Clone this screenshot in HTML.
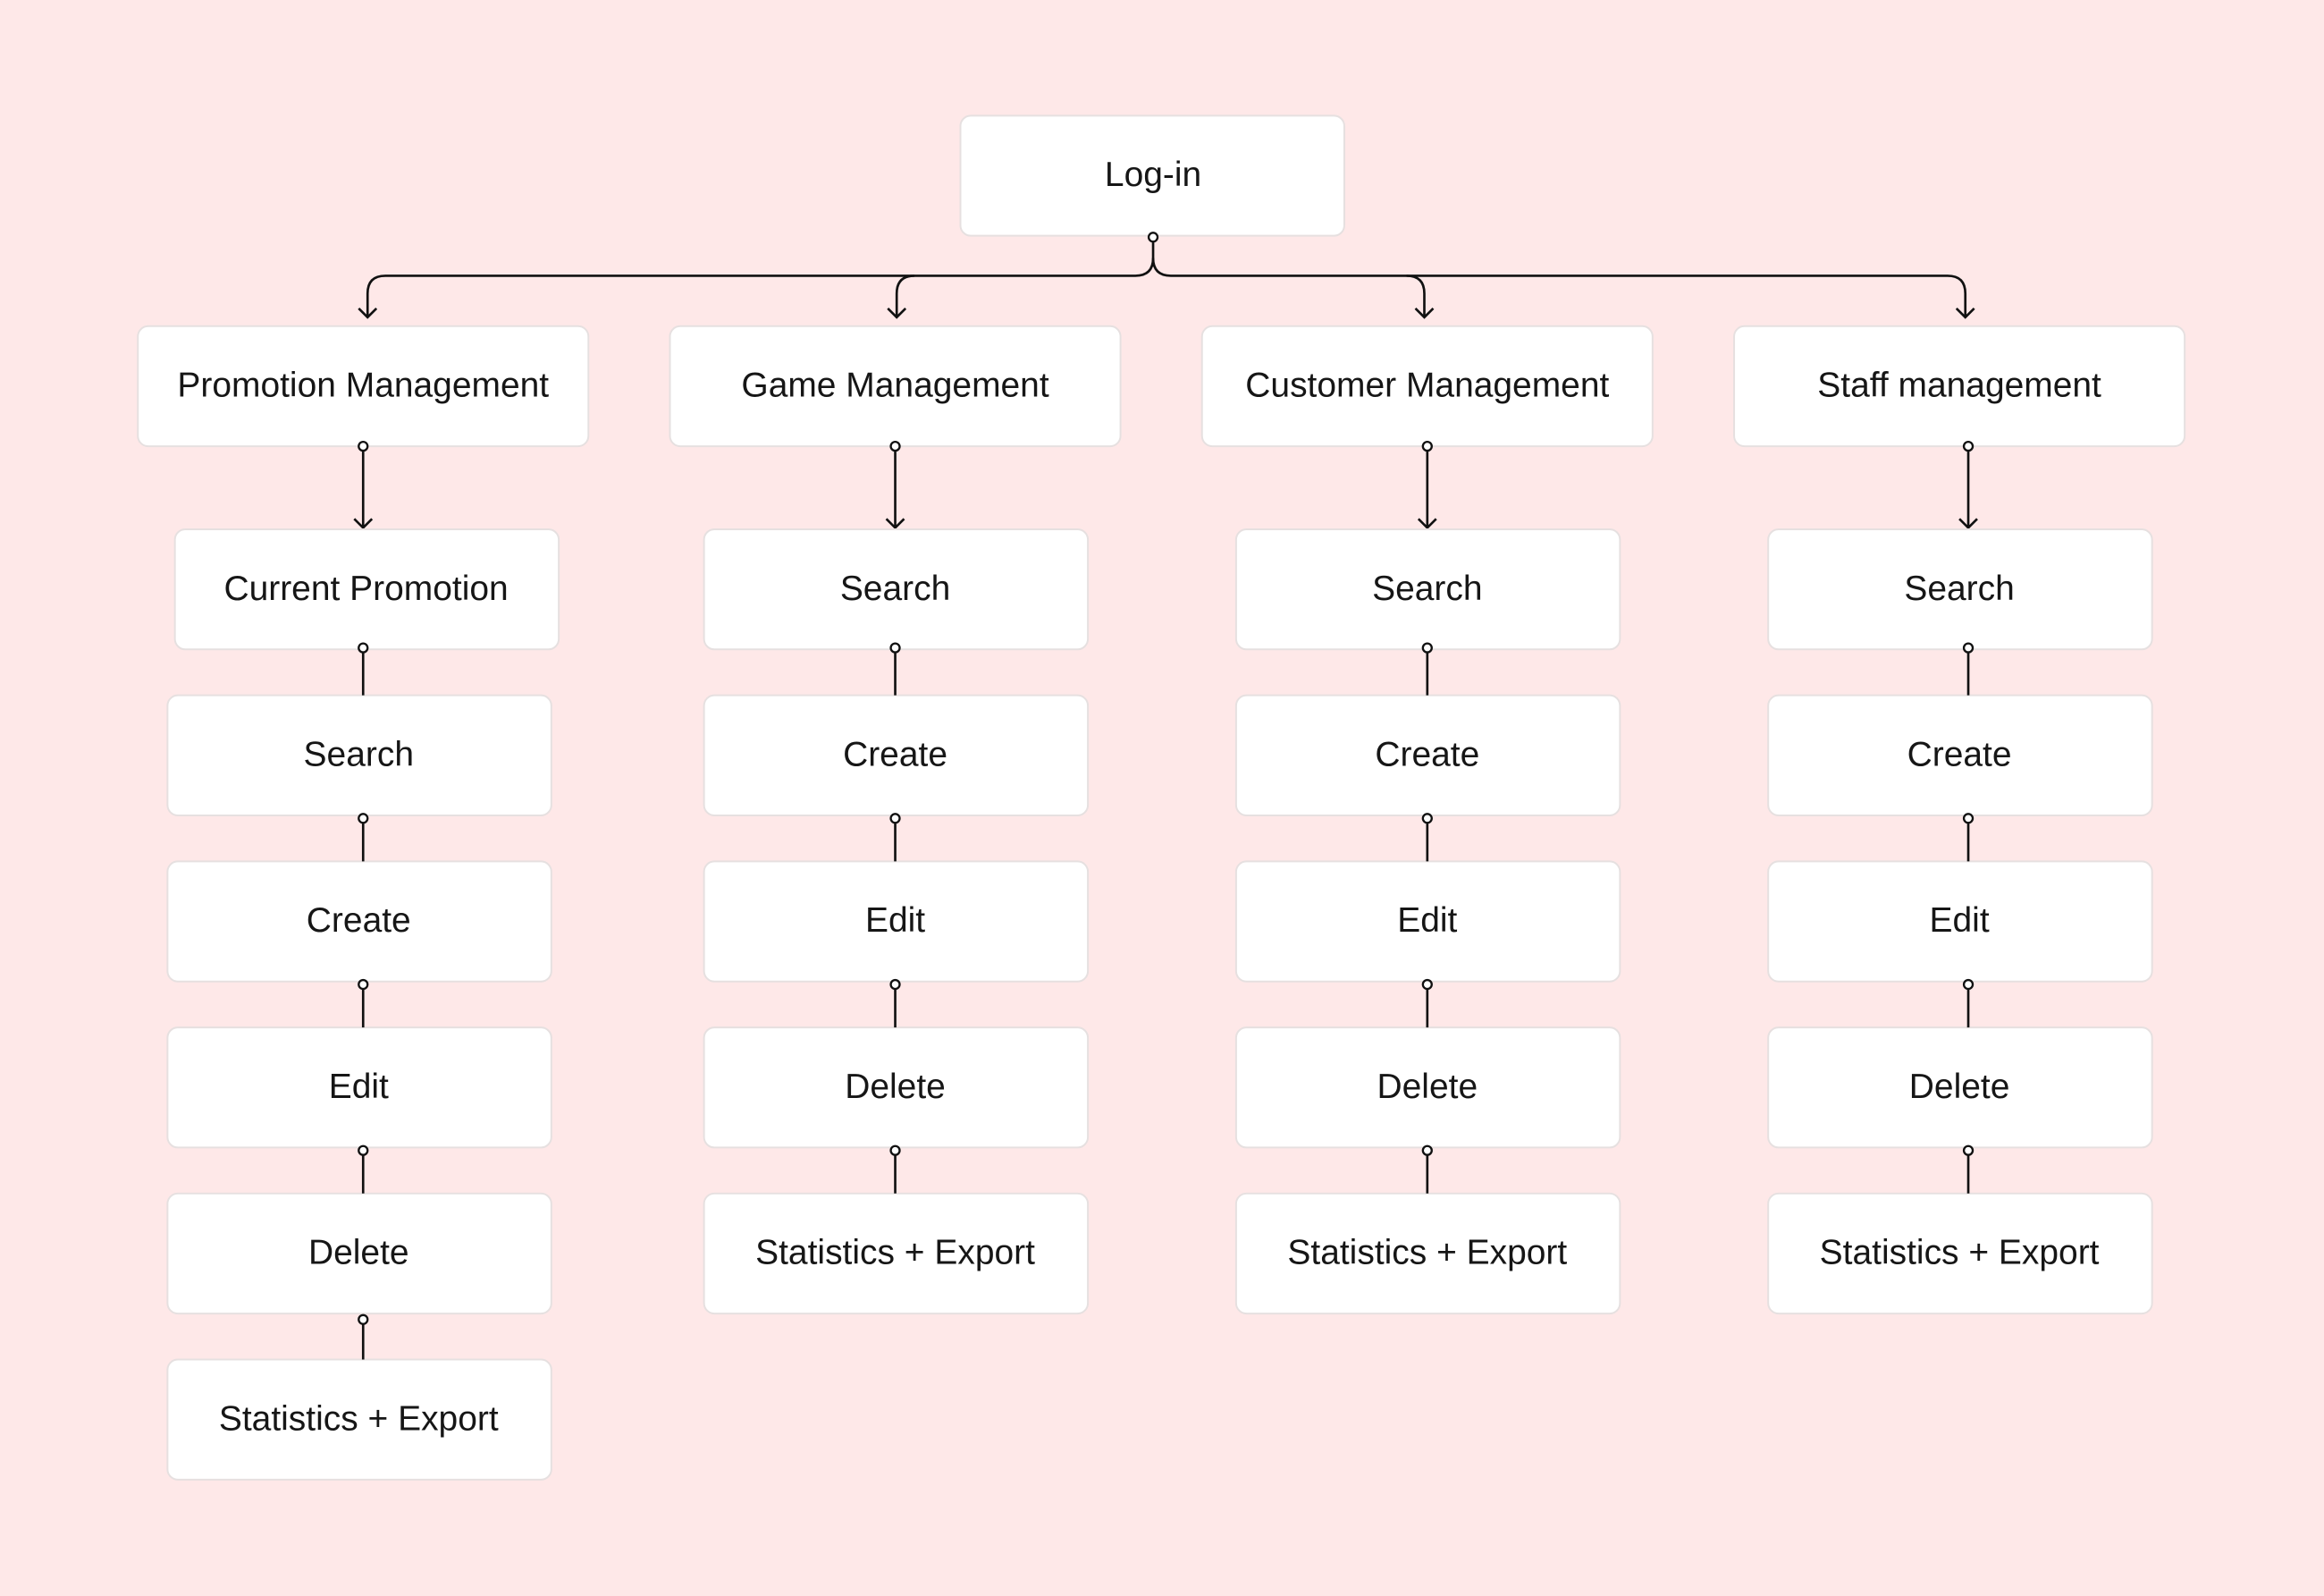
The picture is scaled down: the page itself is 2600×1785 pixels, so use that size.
<!DOCTYPE html>
<html><head><meta charset="utf-8"><style>
html,body{margin:0;padding:0;background:#fee8e8;}
svg{display:block}
text{font-family:"Liberation Sans",sans-serif;font-size:23.5px;fill:#161616;text-anchor:middle;dominant-baseline:central}
.b{fill:#fff;stroke:#e6e0e0;stroke-width:1.2}
.l{stroke:#111;stroke-width:1.6;fill:none}
.d{fill:#fff;stroke:#111;stroke-width:1.4}
</style></head><body>
<svg width="2600" height="1785" viewBox="0 0 1568 1076.5" xmlns="http://www.w3.org/2000/svg">
<rect width="1568" height="1077" fill="#fee8e8"/>
<rect class="b" x="648" y="78" width="259" height="81" rx="7"/><text x="778" y="118">Log-in</text>
<path class="l" d="M778 160 V174 Q778 186 766 186 H260 Q248 186 248 198 V214"/>
<path class="l" d="M778 174 Q778 186 790 186 H1314 Q1326 186 1326 198 V214"/>
<path class="l" d="M617 186 Q605 186 605 198 V214"/>
<path class="l" d="M949 186 Q961 186 961 198 V214"/>
<path class="l" d="M242 208 L248 214 L254 208 M599 208 L605 214 L611 208 M955 208 L961 214 L967 208 M1320 208 L1326 214 L1332 208"/>
<circle class="d" cx="778" cy="160" r="3"/>
<rect class="b" x="93" y="220" width="304" height="81" rx="7"/><text x="245" y="260">Promotion Management</text>
<rect class="b" x="452" y="220" width="304" height="81" rx="7"/><text x="604" y="260">Game Management</text>
<rect class="b" x="811" y="220" width="304" height="81" rx="7"/><text x="963" y="260">Customer Management</text>
<rect class="b" x="1170" y="220" width="304" height="81" rx="7"/><text x="1322" y="260">Staff management</text>
<g>
<path class="l" d="M245 301 V356 M239 350 L245 356 L251 350"/><circle class="d" cx="245" cy="301" r="3"/>
<path class="l" d="M604 301 V356 M598 350 L604 356 L610 350"/><circle class="d" cx="604" cy="301" r="3"/>
<path class="l" d="M963 301 V356 M957 350 L963 356 L969 350"/><circle class="d" cx="963" cy="301" r="3"/>
<path class="l" d="M1328 301 V356 M1322 350 L1328 356 L1334 350"/><circle class="d" cx="1328" cy="301" r="3"/>
</g>
<rect class="b" x="118" y="357" width="259" height="81" rx="7"/><text x="247" y="397">Current Promotion</text>
<rect class="b" x="113" y="469" width="259" height="81" rx="7"/><text x="242" y="509">Search</text>
<rect class="b" x="113" y="581" width="259" height="81" rx="7"/><text x="242" y="621">Create</text>
<rect class="b" x="113" y="693" width="259" height="81" rx="7"/><text x="242" y="733">Edit</text>
<rect class="b" x="113" y="805" width="259" height="81" rx="7"/><text x="242" y="845">Delete</text>
<rect class="b" x="113" y="917" width="259" height="81" rx="7"/><text x="242" y="957">Statistics + Export</text>
<path class="l" d="M245 438 V469 M245 552 V581 M245 664 V693 M245 776 V805 M245 890 V917"/>
<circle class="d" cx="245" cy="437" r="3"/><circle class="d" cx="245" cy="552" r="3"/><circle class="d" cx="245" cy="664" r="3"/><circle class="d" cx="245" cy="776" r="3"/><circle class="d" cx="245" cy="890" r="3"/>
<g id="c1">
<rect class="b" x="475" y="357" width="259" height="81" rx="7"/><text x="604" y="397">Search</text>
<rect class="b" x="475" y="469" width="259" height="81" rx="7"/><text x="604" y="509">Create</text>
<rect class="b" x="475" y="581" width="259" height="81" rx="7"/><text x="604" y="621">Edit</text>
<rect class="b" x="475" y="693" width="259" height="81" rx="7"/><text x="604" y="733">Delete</text>
<rect class="b" x="475" y="805" width="259" height="81" rx="7"/><text x="604" y="845">Statistics + Export</text>
</g>
<g id="k1">
<path class="l" d="M604 438 V469 M604 552 V581 M604 664 V693 M604 776 V805"/>
<circle class="d" cx="604" cy="437" r="3"/><circle class="d" cx="604" cy="552" r="3"/><circle class="d" cx="604" cy="664" r="3"/><circle class="d" cx="604" cy="776" r="3"/>
</g>
<use href="#c1" x="359"/>
<use href="#k1" x="359"/>
<use href="#c1" x="718"/>
<use href="#k1" x="724"/>
</svg>
</body></html>
